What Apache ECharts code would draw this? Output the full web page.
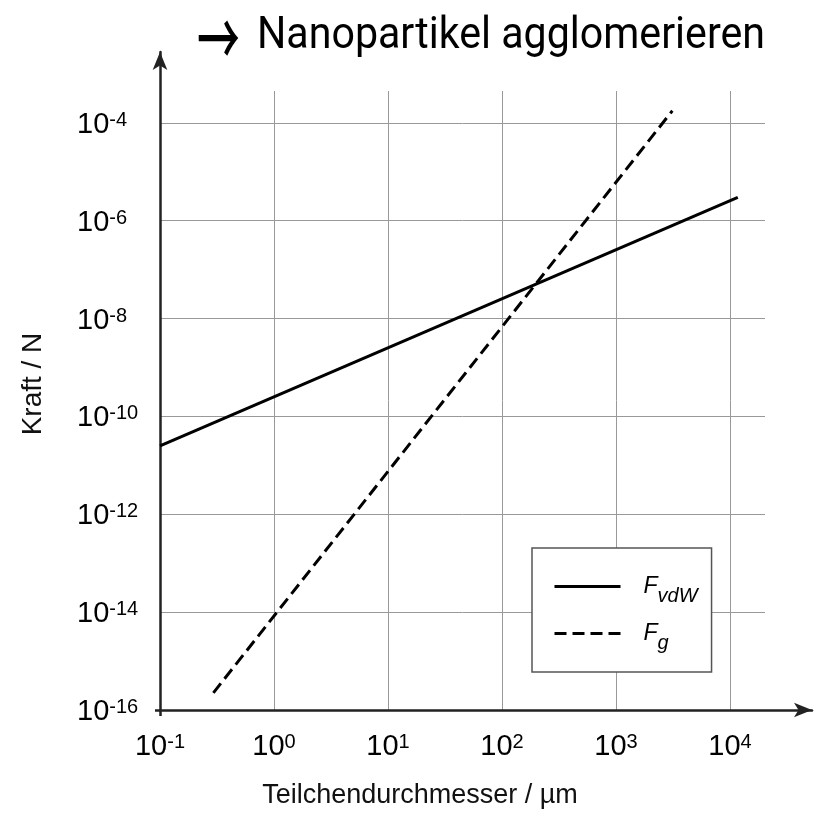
<!DOCTYPE html>
<html>
<head>
<meta charset="utf-8">
<script src="https://cdn.jsdelivr.net/npm/echarts@6/dist/echarts.min.js"></script>
<style>
html,body{margin:0;padding:0;background:#fff;}
#chart{width:821px;height:815px;}
</style>
</head>
<body>
<div id="chart"></div>
<script>
// ---- data ----
const titleArrow = '\u2192';
const titleWords = 'Nanopartikel agglomerieren';
const xAxisName = 'Teilchendurchmesser / \u00b5m';
const yAxisName = 'Kraft / N';
// tick exponents (labels 10^n)
const xTickExponents = [-1, 0, 1, 2, 3, 4];
const yTickExponents = [-16, -14, -12, -10, -8, -6, -4];
// van der Waals force: particle diameter (µm) vs force (N)
const diameterVdW = [0.1, 11700];
const forceVdW = [2.5e-11, 2.99e-6];
// gravitational force
const diameterG = [0.294, 3120];
const forceG = [2.24e-16, 1.76e-4];
const seriesNames = ['FvdW', 'Fg'];
const legendLabels = { FvdW: ['F', 'vdW'], Fg: ['F', 'g'] };

const toLog = (xs, ys) => xs.map((x, i) => [Math.log10(x), Math.log10(ys[i])]);

const FONT = '"Liberation Sans", Arial, sans-serif';

function expLabel(v, list) {
  const n = Math.round(v);
  if (Math.abs(v - n) > 1e-6 || list.indexOf(n) < 0) return '';
  return '{b|10}{s|' + n + '}';
}
const labelRich = {
  b: { fontSize: 29, fontFamily: FONT, color: '#000', verticalAlign: 'top' },
  s: { fontSize: 20, fontFamily: FONT, color: '#000', verticalAlign: 'top' }
};

// title: condensed look via horizontal scaling
const ctx = document.createElement('canvas').getContext('2d');
const wordsFont = '45px Roboto';
ctx.font = wordsFont;
const wordsScale = 508 / ctx.measureText(titleWords).width;
const arrowFont = '500 46px "Noto Sans CJK JP"';

const chart = echarts.init(document.getElementById('chart'), null, { renderer: 'canvas' });
const option = {
  animation: false,
  backgroundColor: '#fff',
  graphic: [{
    type: 'text',
    x: 197, y: 38.5,
    scaleX: 0.93, scaleY: 1.6,
    style: { text: titleArrow, font: arrowFont, fill: '#000', verticalAlign: 'middle', align: 'left' }
  }, {
    type: 'text',
    x: 257, y: 37,
    scaleX: wordsScale,
    style: { text: titleWords, font: wordsFont, fill: '#000', verticalAlign: 'middle', align: 'left' }
  }],
  grid: [
    { left: 160, right: 56, top: 91, bottom: 105, containLabel: false },
    { left: 160, right: 9, top: 52, bottom: 105, containLabel: false }
  ],
  xAxis: [{
    type: 'value', gridIndex: 0,
    min: -1, max: 4.307, interval: 1,
    axisLine: { show: false }, axisTick: { show: false },
    splitLine: { show: true, showMinLine: false, showMaxLine: false, lineStyle: { color: '#999', width: 1 } },
    axisLabel: { margin: 22, formatter: v => expLabel(v, xTickExponents), rich: labelRich },
    name: xAxisName, nameLocation: 'middle', nameGap: 72,
    nameTextStyle: { fontSize: 27, fontFamily: FONT, color: '#111', padding: [0, 85, 0, 0] }
  }, {
    type: 'value', gridIndex: 1, min: 0, max: 1,
    axisLine: { show: true, symbol: ['none', 'arrow'], symbolSize: [11, 18], lineStyle: { color: '#222', width: 2.5 } },
    axisTick: { show: true, customValues: [0], length: 6, lineStyle: { color: '#222', width: 2.5 } },
    axisLabel: { show: false }, splitLine: { show: false }
  }],
  yAxis: [{
    type: 'value', gridIndex: 0,
    min: -16, max: -3.35, interval: 2,
    axisLine: { show: false }, axisTick: { show: false },
    splitLine: { show: true, showMinLine: false, showMaxLine: false, lineStyle: { color: '#999', width: 1 } },
    axisLabel: { margin: 83, align: 'left', formatter: v => expLabel(v, yTickExponents), rich: labelRich, padding: [4, 0, 0, 0] },
    name: yAxisName, nameLocation: 'middle', nameGap: 113, nameRotate: 90,
    nameTextStyle: { fontSize: 28, fontFamily: FONT, color: '#111', padding: [0, 0, 0, 33] }
  }, {
    type: 'value', gridIndex: 1, min: 0, max: 1,
    axisLine: { show: true, symbol: ['none', 'arrow'], symbolSize: [11, 18], lineStyle: { color: '#222', width: 2.5 } },
    axisTick: { show: true, customValues: [0], length: 5, lineStyle: { color: '#222', width: 2.5 } },
    axisLabel: { show: false }, splitLine: { show: false }
  }],
  legend: {
    orient: 'vertical',
    left: 532, top: 548,
    data: seriesNames,
    backgroundColor: '#fff',
    borderColor: '#555', borderWidth: 1.5, borderRadius: 0,
    padding: [26.5, 14, 18.5, 21],
    itemWidth: 66, itemHeight: 30, itemGap: 15,
    itemStyle: { opacity: 0, color: 'rgba(0,0,0,0)', borderWidth: 0 },
    lineStyle: { width: 3, color: '#000' },
    formatter: name => '{F|' + legendLabels[name][0] + '}{s|' + legendLabels[name][1] + '}',
    textStyle: {
      rich: {
        F: { fontSize: 23, fontStyle: 'italic', fontFamily: FONT, color: '#000', padding: [0, 0, 0, 18] },
        s: { fontSize: 20, fontStyle: 'italic', fontFamily: FONT, color: '#000', padding: [20, 0, 0, 0] }
      }
    }
  },
  series: [{
    name: seriesNames[0], type: 'line', xAxisIndex: 0, yAxisIndex: 0,
    data: toLog(diameterVdW, forceVdW),
    symbol: 'none', z: 5,
    lineStyle: { color: '#000', width: 3, type: 'solid' },
    itemStyle: { color: '#000' }
  }, {
    name: seriesNames[1], type: 'line', xAxisIndex: 0, yAxisIndex: 0,
    data: toLog(diameterG, forceG),
    symbol: 'none', z: 5,
    lineStyle: { color: '#000', width: 3, type: [12, 6] },
    itemStyle: { color: '#000' }
  }]
};
chart.setOption(option);
</script>
</body>
</html>
